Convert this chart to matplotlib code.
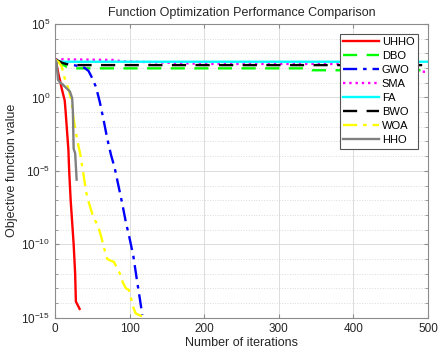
import numpy as np
import matplotlib.pyplot as plt
from matplotlib.ticker import NullFormatter

plt.rcParams['font.family'] = ['Liberation Sans', 'DejaVu Sans']
plt.rcParams['mathtext.default'] = 'regular'

# convergence curves: (iteration, log10 of objective value)
uhho_it = [0, 1, 3, 5, 7, 9, 11, 13, 14, 15, 16, 18, 19, 20, 21, 23, 25, 27, 28, 30, 33]
uhho_lg = [2.6, 2.6, 2.0, 1.5, 1.1, 0.6, 0.2, -0.2, -0.8, -1.5, -2.2, -3.6, -5.0, -6.0,
           -7.0, -8.5, -10.0, -12.0, -13.9, -14.1, -14.4]

dbo_it = [0, 5, 15, 30, 340, 345, 500]
dbo_lg = [2.6, 2.4, 2.1, 1.98, 1.98, 1.85, 1.85]

gwo_it = [0, 5, 10, 15, 20, 25, 30, 35, 40, 45, 50, 55, 60, 65, 70, 75, 80, 85, 90, 95,
          100, 105, 110, 114, 117]
gwo_lg = [2.6, 2.45, 2.4, 2.3, 2.25, 2.2, 2.15, 2.1, 2.0, 1.8, 1.3, 0.7, -0.3, -1.5,
          -2.8, -3.9, -4.8, -6.0, -7.2, -8.5, -9.6, -10.8, -12.5, -13.8, -14.8]

sma_it = [0, 80, 90, 130, 200, 390, 420, 500]
sma_lg = [2.6, 2.55, 2.45, 2.4, 2.28, 2.28, 1.75, 1.75]

fa_it = [0, 2, 500]
fa_lg = [2.6, 2.43, 2.43]

bwo_it = [0, 10, 20, 500]
bwo_lg = [2.6, 2.35, 2.2, 2.2]

woa_it = [0, 5, 9, 13, 16, 19, 22, 25, 28, 31, 34, 38, 42, 45, 48, 51, 55, 58, 62, 66,
          70, 74, 79, 83, 87, 91, 95, 99, 102, 105, 108, 112, 117]
woa_lg = [2.6, 2.4, 2.1, 1.3, 0.9, 0.4, -0.2, -1.5, -2.4, -3.2, -3.9, -5.2, -6.5, -7.1,
          -7.6, -8.1, -8.5, -8.8, -9.5, -10.3, -11.0, -11.1, -11.2, -11.6, -12.0, -12.6,
          -13.0, -13.1, -13.7, -14.3, -14.7, -14.8, -14.9]

hho_it = [0, 2, 4, 7, 10, 13, 16, 20, 23, 24, 25, 27, 29]
hho_lg = [2.6, 2.4, 1.2, 1.0, 0.9, 0.75, 0.6, 0.4, -0.05, -1.0, -3.5, -3.8, -5.6]

series = [
    ('UHHO', uhho_it, uhho_lg, '#ff0000', '-'),
    ('DBO', dbo_it, dbo_lg, '#00ff00', (0, (6, 4))),
    ('GWO', gwo_it, gwo_lg, '#0000ff', (0, (6, 2.5, 1.5, 2.5))),
    ('SMA', sma_it, sma_lg, '#ff00ff', ':'),
    ('FA', fa_it, fa_lg, '#00ffff', '-'),
    ('BWO', bwo_it, bwo_lg, '#000000', (0, (6, 4))),
    ('WOA', woa_it, woa_lg, '#ffff00', (0, (6, 2.5, 1.5, 2.5))),
    ('HHO', hho_it, hho_lg, '#808080', '-'),
]

fig = plt.figure(figsize=(4.45, 3.61), dpi=100)
ax = fig.add_axes([55 / 445, (361 - 317.7) / 361, 373 / 445, 293.7 / 361])

for name, it, lg, col, ls in series:
    ax.semilogy(it, 10.0 ** np.array(lg), color=col, linestyle=ls, linewidth=1.7, label=name)

ax.set_xlim(0, 500)
ax.set_ylim(1e-15, 1e5)
ax.set_xticks([0, 100, 200, 300, 400, 500])
ax.set_yticks([1e-15, 1e-10, 1e-5, 1e0, 1e5])
ax.set_yticks([10.0 ** k for k in range(-15, 6)], minor=True)
ax.yaxis.set_minor_formatter(NullFormatter())

ax.grid(True, which='major', color='#dcdcdc', linewidth=0.7)
ax.grid(True, which='minor', axis='y', color='#dcdcdc', linestyle=':', linewidth=0.7)
ax.set_axisbelow(True)

for sp in ax.spines.values():
    sp.set_color('#8c8c8c')
ax.tick_params(which='both', direction='in', top=True, right=True, color='#8c8c8c',
               labelsize=8.5, labelcolor='#262626', length=3)
ax.tick_params(which='minor', length=2)

ax.set_title('Function Optimization Performance Comparison', fontsize=9, color='#262626', pad=6)
ax.set_xlabel('Number of iterations', fontsize=9, color='#262626', labelpad=2)
ax.set_ylabel('Objective function value', fontsize=9, color='#262626', labelpad=2)

leg = ax.legend(loc='upper right', bbox_to_anchor=(0.973, 0.966), fontsize=8,
                handlelength=3.2, borderaxespad=0, fancybox=False, framealpha=1,
                labelspacing=0.36, borderpad=0.3, handletextpad=0.3)
leg.get_frame().set_edgecolor('#555555')
leg.get_frame().set_linewidth(0.8)

fig.savefig('out.png', dpi=100)
